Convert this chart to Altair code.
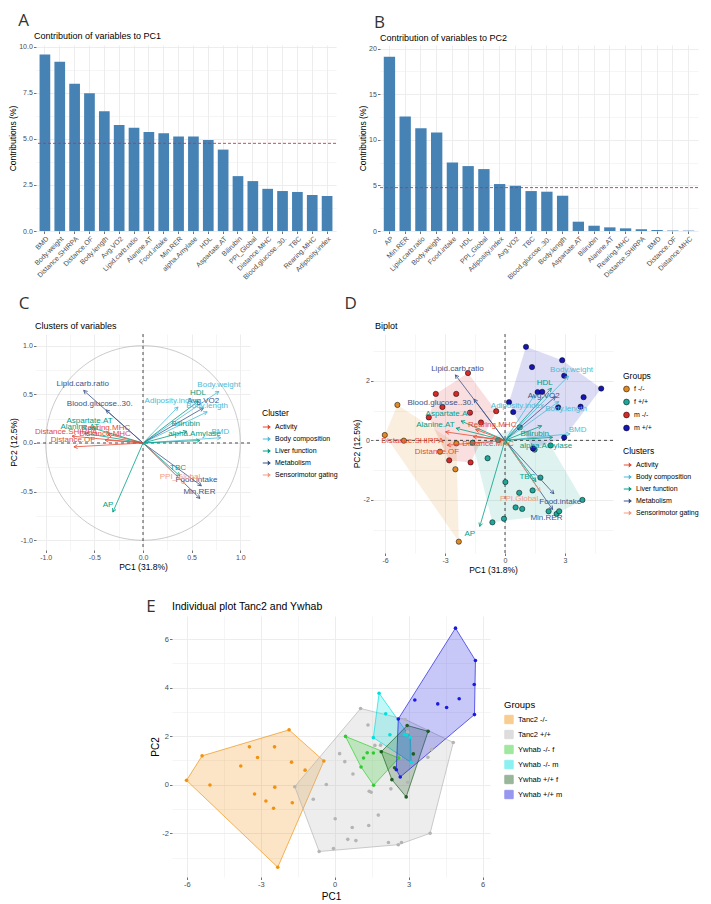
import math
import altair as alt
import numpy as np
import pandas as pd

FONT = "Liberation Sans"
LFONT = "Open Sans"

# ---------------- data: panels A / B ----------------
pc1_vars = ["BMD", "Body.weight", "Distance.SHIRPA", "Distance.OF", "Body.length", "Avg.VO2",
            "Lipid.carb.ratio", "Alanine.AT", "Food.intake", "Min.RER", "alpha.Amylase", "HDL",
            "Aspartate.AT", "Bilirubin", "PPI_Global", "Distance.MHC", "Blood.glucose..30.", "TBC",
            "Rearing.MHC", "Adiposity.index"]
pc1_contrib = [9.58, 9.19, 8.00, 7.48, 6.50, 5.75, 5.60, 5.38, 5.31, 5.13, 5.13, 4.94,
               4.42, 2.98, 2.71, 2.29, 2.17, 2.12, 1.96, 1.90]
pc2_vars = ["AP", "Min.RER", "Lipid.carb.ratio", "Body.weight", "Food.intake", "HDL", "PPI_Global",
            "Adiposity.index", "Avg.VO2", "TBC", "Blood.glucose..30.", "Body.length", "Aspartate.AT",
            "Bilirubin", "Alanine.AT", "Rearing.MHC", "Distance.SHIRPA", "BMD", "Distance.OF", "Distance.MHC"]
pc2_contrib = [19.12, 12.55, 11.28, 10.80, 7.52, 7.12, 6.79, 5.15, 4.96, 4.38, 4.31, 3.87,
               1.02, 0.58, 0.40, 0.29, 0.18, 0.11, 0.05, 0.04]
expected_contrib = [4.76]

# ---------------- data: variables (panels C / D) ----------------
var_names = ["BMD", "Body.weight", "Distance.SHIRPA", "Distance.OF", "Body.length", "Avg.VO2",
             "Lipid.carb.ratio", "Alanine.AT", "Food.intake", "Min.RER", "alpha.Amylase", "HDL",
             "Aspartate.AT", "Bilirubin", "PPI_Global", "Distance.MHC", "Blood.glucose..30.", "TBC",
             "Rearing.MHC", "Adiposity.index", "AP"]
var_labels_d = ["BMD", "Body.weight", "Distance.SHIRPA", "Distance.OF", "Body.length", "Avg.VO2",
                "Lipid.carb.ratio", "Alanine.AT", "Food.intake", "Min.RER", "alpha.Amylase", "HDL",
                "Aspartate.AT", "Bilirubin", "PPI.Global", "Distance.MHC", "Blood.glucose..30.", "TBC",
                "Rearing.MHC", "Adiposity.index", "AP"]
var_cluster = ["Body composition", "Body composition", "Activity", "Activity", "Body composition", "Metabolism",
               "Metabolism", "Liver function", "Metabolism", "Metabolism", "Liver function", "Liver function",
               "Liver function", "Liver function", "Sensorimotor gating", "Activity", "Metabolism", "Liver function",
               "Activity", "Body composition", "Liver function"]
load_pc1 = [0.80, 0.78, -0.73, -0.71, 0.66, 0.62, -0.61, -0.60, 0.60, 0.585, 0.585, 0.57,
            -0.54, 0.45, 0.43, -0.39, -0.38, 0.38, -0.36, 0.36, -0.31]
load_pc2 = [0.054, 0.53, 0.07, -0.04, 0.32, 0.36, 0.54, 0.10, -0.44, -0.57, 0.025, 0.43,
            0.16, 0.12, -0.42, 0.03, 0.34, -0.34, 0.09, 0.37, -0.71]
labc_x = [0.795, 0.78, -0.79, -0.72, 0.66, 0.62, -0.62, -0.65, 0.55, 0.58, 0.53, 0.565,
          -0.55, 0.44, 0.38, -0.39, -0.445, 0.36, -0.38, 0.29, -0.36]
labc_y = [0.11, 0.60, 0.11, 0.03, 0.385, 0.43, 0.61, 0.16, -0.385, -0.505, 0.09, 0.51,
          0.23, 0.19, -0.35, 0.09, 0.40, -0.26, 0.155, 0.43, -0.64]
labd_x = [3.63, 3.33, -4.63, -3.40, 3.05, 1.94, -2.38, -3.48, 2.76, 2.07, 2.05, 1.99,
          -2.82, 1.49, 0.71, -0.85, -3.23, 1.12, -0.64, 0.62, -1.76]
labd_y = [0.35, 2.36, -0.01, -0.40, 1.05, 1.49, 2.39, 0.50, -2.08, -2.61, -0.18, 1.94,
          0.87, 0.23, -1.98, -0.13, 1.24, -1.22, 0.51, 1.15, -3.15]
biplot_arrow_scale = 4.07

cluster_names = ["Activity", "Body composition", "Liver function", "Metabolism", "Sensorimotor gating"]
cluster_colors = ["#E64B35", "#4DBBD5", "#00A087", "#3C5488", "#F39B7F"]

# ---------------- data: individuals (panels D / E) ----------------
d_groups = ["f -/-", "f +/+", "m -/-", "m +/+"]
d_colors = ["#E08A26", "#1FA79A", "#D42A2A", "#1616B4"]
f_ko_x = [-6.01, -5.38, -5.06, -3.25, -2.43, -2.48, -2.31]
f_ko_y = [0.18, 1.19, -0.01, -0.38, -0.10, -0.97, -3.40]
m_ko_x = [-1.85, -3.46, -2.44, -3.13, -3.81, -1.75, -1.20, -0.44, -2.79, -1.72]
m_ko_y = [2.26, 1.56, 1.56, 1.12, 0.77, 0.93, 0.60, 0.98, -0.67, -0.74]
f_wt_x = [0.74, 0.02, 1.77, 1.38, 0.71, 3.87, 0.53, 0.86, 2.18, 2.58, 2.71, -0.05, 2.28, 1.48, -0.87, -0.63, -1.62, -0.34]
f_wt_y = [0.44, -1.40, -1.25, -1.68, -1.76, -2.00, -2.25, -2.30, -2.38, -2.47, -2.38, -2.63, -0.17, -0.31, -0.60, -2.75, -0.08, 0.01]
m_wt_x = [1.05, 1.35, 2.86, 2.96, 4.81, 3.93, 3.78, 2.66, 1.63, 1.86, 0.20, 0.41, 2.96, 1.40]
m_wt_y = [3.14, 2.46, 2.69, 2.17, 1.74, 1.45, 1.13, 1.11, 1.62, 1.63, 1.28, 0.95, 0.10, -0.27]

e_groups = ["Tanc2 -/-", "Tanc2 +/+", "Ywhab -/- f", "Ywhab -/- m", "Ywhab +/+ f", "Ywhab +/+ m"]
e_colors = ["#F0920F", "#B4B4B4", "#2ECC2E", "#00E0E0", "#1E5E22", "#1A1AE0"]
yw_ko_f_x = [0.44, 1.32, 1.57, 1.17, 1.07, 1.58, 2.60]
yw_ko_f_y = [1.99, 1.32, 1.31, 1.10, 0.73, -0.02, 1.10]
yw_ko_m_x = [1.80, 2.07, 1.57, 2.24, 2.83, 2.92, 3.07, 3.10]
yw_ko_m_y = [3.77, 2.92, 1.94, 2.06, 2.07, 2.05, 1.95, 0.92]
yw_wt_f_x = [2.94, 3.79, 1.89, 3.19, 2.43, 2.32, 2.90]
yw_wt_f_y = [2.44, 2.20, 1.36, 1.27, 0.70, 0.21, -0.50]
yw_wt_m_x = [4.90, 5.71, 5.66, 5.05, 3.25, 4.18, 4.54, 5.67, 2.58, 2.50, 2.66]
yw_wt_m_y = [6.45, 5.12, 4.13, 3.54, 3.49, 3.33, 3.18, 2.89, 2.71, 0.62, 0.32]


# ---------------- helpers ----------------
def convex_hull(points):
    pts = sorted(set(points))
    if len(pts) <= 2:
        return pts

    def cross(o, a, b):
        return (a[0] - o[0]) * (b[1] - o[1]) - (a[1] - o[1]) * (b[0] - o[0])

    lower, upper = [], []
    for p in pts:
        while len(lower) >= 2 and cross(lower[-2], lower[-1], p) <= 0:
            lower.pop()
        lower.append(p)
    for p in reversed(pts):
        while len(upper) >= 2 and cross(upper[-2], upper[-1], p) <= 0:
            upper.pop()
        upper.append(p)
    return lower[:-1] + upper[:-1]


def hull_frame(groups):
    rows = []
    for g, (xs, ys) in groups.items():
        h = convex_hull(list(zip(xs, ys)))
        h = h + [h[0]]
        for i, (x, y) in enumerate(h):
            rows.append({"group": g, "x": x, "y": y, "ord": i})
    return pd.DataFrame(rows)


def points_frame(groups):
    rows = []
    for g, (xs, ys) in groups.items():
        for x, y in zip(xs, ys):
            rows.append({"group": g, "x": x, "y": y})
    return pd.DataFrame(rows)


def mk_axis(lo, hi, minor, major, fmt, title, label_size=7, title_size=8.5, **kw):
    n0 = math.ceil(lo / minor - 1e-9)
    n1 = math.floor(hi / minor + 1e-9)
    vals = [round(i * minor, 6) for i in range(n0, n1 + 1)]
    t = f"abs(datum.value / {major} - round(datum.value / {major})) < 0.000001"
    return alt.Axis(
        values=vals, title=title, labelFontSize=label_size, titleFontSize=title_size,
        labelExpr=f"({t}) ? replace(format(datum.value, '{fmt}'), '\u2212', '-') : ''",
        tickOpacity={"condition": {"test": t, "value": 1}, "value": 0},
        gridWidth={"condition": {"test": t, "value": 0.9}, "value": 0.5},
        labelOverlap=False, labelFlush=False, **kw)


def letter(chart, text, dx, offset):
    return alt.vconcat(chart, spacing=0, title=alt.TitleParams(
        text, anchor="start", fontSize=17, font=LFONT, fontWeight="normal",
        color="#333333", dx=dx, offset=offset))


def ptitle(text, dx, offset, size=9):
    return alt.TitleParams(text, anchor="start", frame="group", fontSize=size,
                           font=FONT, fontWeight="normal", color="black", dx=dx, offset=offset)


ARROW_HEAD = "M-0.9,1.7L0,0L0.9,1.7"
LEGEND_ARROW = "M-1,0L1,0M0.35,-0.55L1,0L0.35,0.55"

cluster_scale = alt.Scale(domain=cluster_names, range=cluster_colors)


# ---------------- panel A / B ----------------
def contrib_chart(vars_, vals, ymax, minor, major, fmt, w, h, title):
    df = pd.DataFrame({"var": vars_, "contrib": vals})
    yax = mk_axis(0, ymax, minor, major, fmt, "Contributions (%)")
    bars = alt.Chart(df).mark_bar(color="#4682B4").encode(
        x=alt.X("var:N", sort=vars_,
                scale=alt.Scale(paddingInner=0.28, paddingOuter=0.24),
                axis=alt.Axis(title=None, labelAngle=-45, labelAlign="right", labelBaseline="top",
                              labelFontSize=7, grid=True, bandPosition=0.5, labelOverlap=False,
                              labelPadding=1, gridWidth=0.9)),
        y=alt.Y("contrib:Q", scale=alt.Scale(domain=[0, ymax], nice=False, zero=False), axis=yax),
    )
    line = alt.Chart(pd.DataFrame({"v": expected_contrib})).mark_rule(
        color="#D0304A", strokeDash=[3, 2], strokeWidth=0.9).encode(
        y=alt.Y("v:Q", scale=alt.Scale(domain=[0, ymax], nice=False, zero=False), axis=yax))
    return alt.layer(bars, line).properties(width=w, height=h, title=title)


A = contrib_chart(pc1_vars, pc1_contrib, 10.1, 1.25, 2.5, ".1f", 300, 186,
                  ptitle("Contribution of variables to PC1", -2, 2))
B = contrib_chart(pc2_vars, pc2_contrib, 20.4, 2.5, 5, "d", 318, 186,
                  ptitle("Contribution of variables to PC2", 0, 2))

# ---------------- panel C ----------------
C_W, C_H = 214, 216
C_X, C_Y = [-1.1, 1.1], [-1.1, 1.12]
ckx = C_W / (C_X[1] - C_X[0])
cky = C_H / (C_Y[1] - C_Y[0])

dfv = pd.DataFrame({"var": var_names, "dlabel": var_labels_d, "cluster": var_cluster,
                    "x": load_pc1, "y": load_pc2, "lx": labc_x, "ly": labc_y,
                    "dlx": labd_x, "dly": labd_y})
dfv["x0"] = 0.0
dfv["y0"] = 0.0
dfv["angC"] = [(math.degrees(math.atan2(x * ckx, y * cky)) + 360) % 360 for x, y in zip(dfv.x, dfv.y)]

cxax = mk_axis(C_X[0], C_X[1], 0.25, 0.5, ".1f", "PC1 (31.8%)")
cyax = mk_axis(C_Y[0], C_Y[1], 0.25, 0.5, ".1f", "PC2 (12.5%)")


def cx(f):
    return alt.X(f, type="quantitative", scale=alt.Scale(domain=C_X, nice=False, zero=False), axis=cxax)


def cy(f):
    return alt.Y(f, type="quantitative", scale=alt.Scale(domain=C_Y, nice=False, zero=False), axis=cyax)


theta = np.linspace(0, 2 * np.pi, 241)
circle = pd.DataFrame({"x": np.cos(theta), "y": np.sin(theta), "i": np.arange(len(theta))})
circ = alt.Chart(circle).mark_line(color="#B3B3B3", strokeWidth=0.7).encode(x=cx("x"), y=cy("y"), order="i:Q")
zero = pd.DataFrame({"v": [0.0]})
c_v = alt.Chart(zero).mark_rule(color="black", strokeDash=[3, 3], strokeWidth=0.7).encode(x=cx("v"))
c_h = alt.Chart(zero).mark_rule(color="black", strokeDash=[3, 3], strokeWidth=0.7).encode(y=cy("v"))
c_arr = alt.Chart(dfv).mark_rule(strokeWidth=0.8).encode(
    x=cx("x0"), y=cy("y0"), x2="x:Q", y2="y:Q",
    stroke=alt.Stroke("cluster:N", scale=cluster_scale,
                      legend=alt.Legend(title="Cluster", orient="none", legendX=C_W + 12, legendY=75,
                                        symbolType=LEGEND_ARROW, symbolSize=55, symbolStrokeWidth=1,
                                        rowPadding=3)))
c_head = alt.Chart(dfv).mark_point(shape=ARROW_HEAD, filled=False, size=18, strokeWidth=0.8, opacity=1).encode(
    x=cx("x"), y=cy("y"), angle=alt.Angle("angC:Q", scale=None),
    stroke=alt.Stroke("cluster:N", scale=cluster_scale, legend=None))
c_lab = alt.Chart(dfv).mark_text(fontSize=8, font=FONT).encode(
    x=cx("lx"), y=cy("ly"), text="var:N",
    color=alt.Color("cluster:N", scale=cluster_scale, legend=None))
C = alt.layer(circ, c_v, c_h, c_arr, c_head, c_lab).properties(
    width=C_W, height=C_H, title=ptitle("Clusters of variables", -1, 3))

# ---------------- panel D ----------------
D_W, D_H = 240, 219
D_X, D_Y = [-6.6, 5.4], [-3.78, 3.57]
dkx = D_W / (D_X[1] - D_X[0])
dky = D_H / (D_Y[1] - D_Y[0])
dfv["xe"] = dfv.x * biplot_arrow_scale
dfv["ye"] = dfv.y * biplot_arrow_scale
dfv["angD"] = [(math.degrees(math.atan2(x * dkx, y * dky)) + 360) % 360 for x, y in zip(dfv.xe, dfv.ye)]

dxax = mk_axis(D_X[0], D_X[1], 1.5, 3, "d", "PC1 (31.8%)")
dyax = mk_axis(D_Y[0], D_Y[1], 1, 2, "d", "PC2 (12.5%)")


def dx_(f):
    return alt.X(f, type="quantitative", scale=alt.Scale(domain=D_X, nice=False, zero=False), axis=dxax)


def dy_(f):
    return alt.Y(f, type="quantitative", scale=alt.Scale(domain=D_Y, nice=False, zero=False), axis=dyax)


d_sets = {"f -/-": (f_ko_x, f_ko_y), "f +/+": (f_wt_x, f_wt_y),
          "m -/-": (m_ko_x, m_ko_y), "m +/+": (m_wt_x, m_wt_y)}
d_pts = points_frame(d_sets)
d_hull = hull_frame(d_sets)
dscale = alt.Scale(domain=d_groups, range=d_colors)

d_hulls = [
    alt.Chart(d_hull).transform_filter(alt.datum.group == g).mark_line(
        fill=col, fillOpacity=0.15, stroke=col, strokeOpacity=0, strokeWidth=0).encode(
        x=dx_("x"), y=dy_("y"), order="ord:Q")
    for g, col in zip(d_groups, d_colors)
]
d_v = alt.Chart(zero).mark_rule(color="black", strokeDash=[3, 3], strokeWidth=0.7).encode(x=dx_("v"))
d_h = alt.Chart(zero).mark_rule(color="black", strokeDash=[3, 3], strokeWidth=0.7).encode(y=dy_("v"))
d_pt = alt.Chart(d_pts).mark_point(filled=True, size=28, stroke="black", strokeWidth=0.5, opacity=1).encode(
    x=dx_("x"), y=dy_("y"),
    fill=alt.Fill("group:N", scale=dscale,
                  legend=alt.Legend(title="Groups", orient="none", legendX=D_W + 10, legendY=38,
                                    symbolSize=34, symbolStrokeColor="black", symbolStrokeWidth=0.5,
                                    rowPadding=4)))
d_arr = alt.Chart(dfv).mark_rule(strokeWidth=0.8).encode(
    x=dx_("x0"), y=dy_("y0"), x2="xe:Q", y2="ye:Q",
    stroke=alt.Stroke("cluster:N", scale=cluster_scale,
                      legend=alt.Legend(title="Clusters", orient="none", legendX=D_W + 10, legendY=113,
                                        symbolType=LEGEND_ARROW, symbolSize=55, symbolStrokeWidth=1,
                                        rowPadding=3)))
d_head = alt.Chart(dfv).mark_point(shape=ARROW_HEAD, filled=False, size=18, strokeWidth=0.8, opacity=1).encode(
    x=dx_("xe"), y=dy_("ye"), angle=alt.Angle("angD:Q", scale=None),
    stroke=alt.Stroke("cluster:N", scale=cluster_scale, legend=None))
d_lab = alt.Chart(dfv).mark_text(fontSize=8, font=FONT).encode(
    x=dx_("dlx"), y=dy_("dly"), text="dlabel:N",
    color=alt.Color("cluster:N", scale=cluster_scale, legend=None))
D = alt.layer(*d_hulls, d_v, d_h, d_pt, d_arr, d_head, d_lab).properties(
    width=D_W, height=D_H, title=ptitle("Biplot", 2, 3))

# ---------------- panel E ----------------
E_W, E_H = 318, 261
E_X, E_Y = [-6.6, 6.3], [-3.8, 6.95]
exax = mk_axis(E_X[0], E_X[1], 1.5, 3, "d", "PC1", label_size=7.5, title_size=10, titlePadding=3)
eyax = mk_axis(E_Y[0], E_Y[1], 1, 2, "d", "PC2", label_size=7.5, title_size=10)


def ex(f):
    return alt.X(f, type="quantitative", scale=alt.Scale(domain=E_X, nice=False, zero=False), axis=exax)


def ey(f):
    return alt.Y(f, type="quantitative", scale=alt.Scale(domain=E_Y, nice=False, zero=False), axis=eyax)


e_sets = {"Tanc2 -/-": (f_ko_x + m_ko_x, f_ko_y + m_ko_y),
          "Tanc2 +/+": (f_wt_x + m_wt_x, f_wt_y + m_wt_y),
          "Ywhab -/- f": (yw_ko_f_x, yw_ko_f_y), "Ywhab -/- m": (yw_ko_m_x, yw_ko_m_y),
          "Ywhab +/+ f": (yw_wt_f_x, yw_wt_f_y), "Ywhab +/+ m": (yw_wt_m_x, yw_wt_m_y)}
e_pts = points_frame(e_sets)
e_hull = hull_frame(e_sets)
escale = alt.Scale(domain=e_groups, range=e_colors)
e_leg = alt.Legend(title="Groups", orient="none", legendX=E_W + 14, legendY=84, symbolType="square",
                   symbolSize=70, symbolStrokeWidth=1, symbolOpacity=0.45, titleFontSize=9.5,
                   labelFontSize=7.5, rowPadding=1)
e_hl = alt.Chart(e_hull).mark_line(fillOpacity=0.24, strokeWidth=0.8, strokeOpacity=0.85).encode(
    x=ex("x"), y=ey("y"), order="ord:Q",
    fill=alt.Fill("group:N", scale=escale, legend=e_leg),
    stroke=alt.Stroke("group:N", scale=escale, legend=e_leg))
e_pt = alt.Chart(e_pts).mark_circle(size=13, opacity=1).encode(
    x=ex("x"), y=ey("y"), color=alt.Color("group:N", scale=escale, legend=None))
E = alt.layer(e_hl, e_pt).properties(
    width=E_W, height=E_H, title=ptitle("Individual plot Tanc2 and Ywhab", 0, 4, size=10.5))

# ---------------- layout ----------------
IND = dict(color="independent", fill="independent", stroke="independent")
row1 = alt.hconcat(letter(A, "A", 10, 2), letter(B, "B", 16, 2), spacing=21).resolve_scale(**IND)
row2 = alt.hconcat(letter(C, "C", 9, 9), letter(D, "D", -8, 9), spacing=6).resolve_scale(**IND)
row3 = letter(E, "E", -4, -14)

top = alt.vconcat(row1, row2, spacing=13).resolve_scale(**IND)
chart = alt.vconcat(top, row3, spacing=23, center=True).resolve_scale(**IND).properties(
    padding={"left": 0, "top": 3, "right": 0, "bottom": 0}
).configure_view(stroke=None).configure_axis(
    domain=False, gridColor="#EBEBEB", labelColor="#4D4D4D", titleColor="black",
    labelFont=FONT, titleFont=FONT, titleFontWeight="normal", tickColor="#4D4D4D",
    tickSize=2.5, tickWidth=0.8, labelPadding=1.2, titlePadding=1.5
).configure_legend(
    titleFont=FONT, labelFont=FONT, titleFontWeight="normal", titleFontSize=8.5,
    labelFontSize=7, labelColor="black", titleColor="black", rowPadding=4, titlePadding=5
).configure_title(font=FONT)

chart.save("out.html", embed_options={"renderer": "svg", "actions": False})
